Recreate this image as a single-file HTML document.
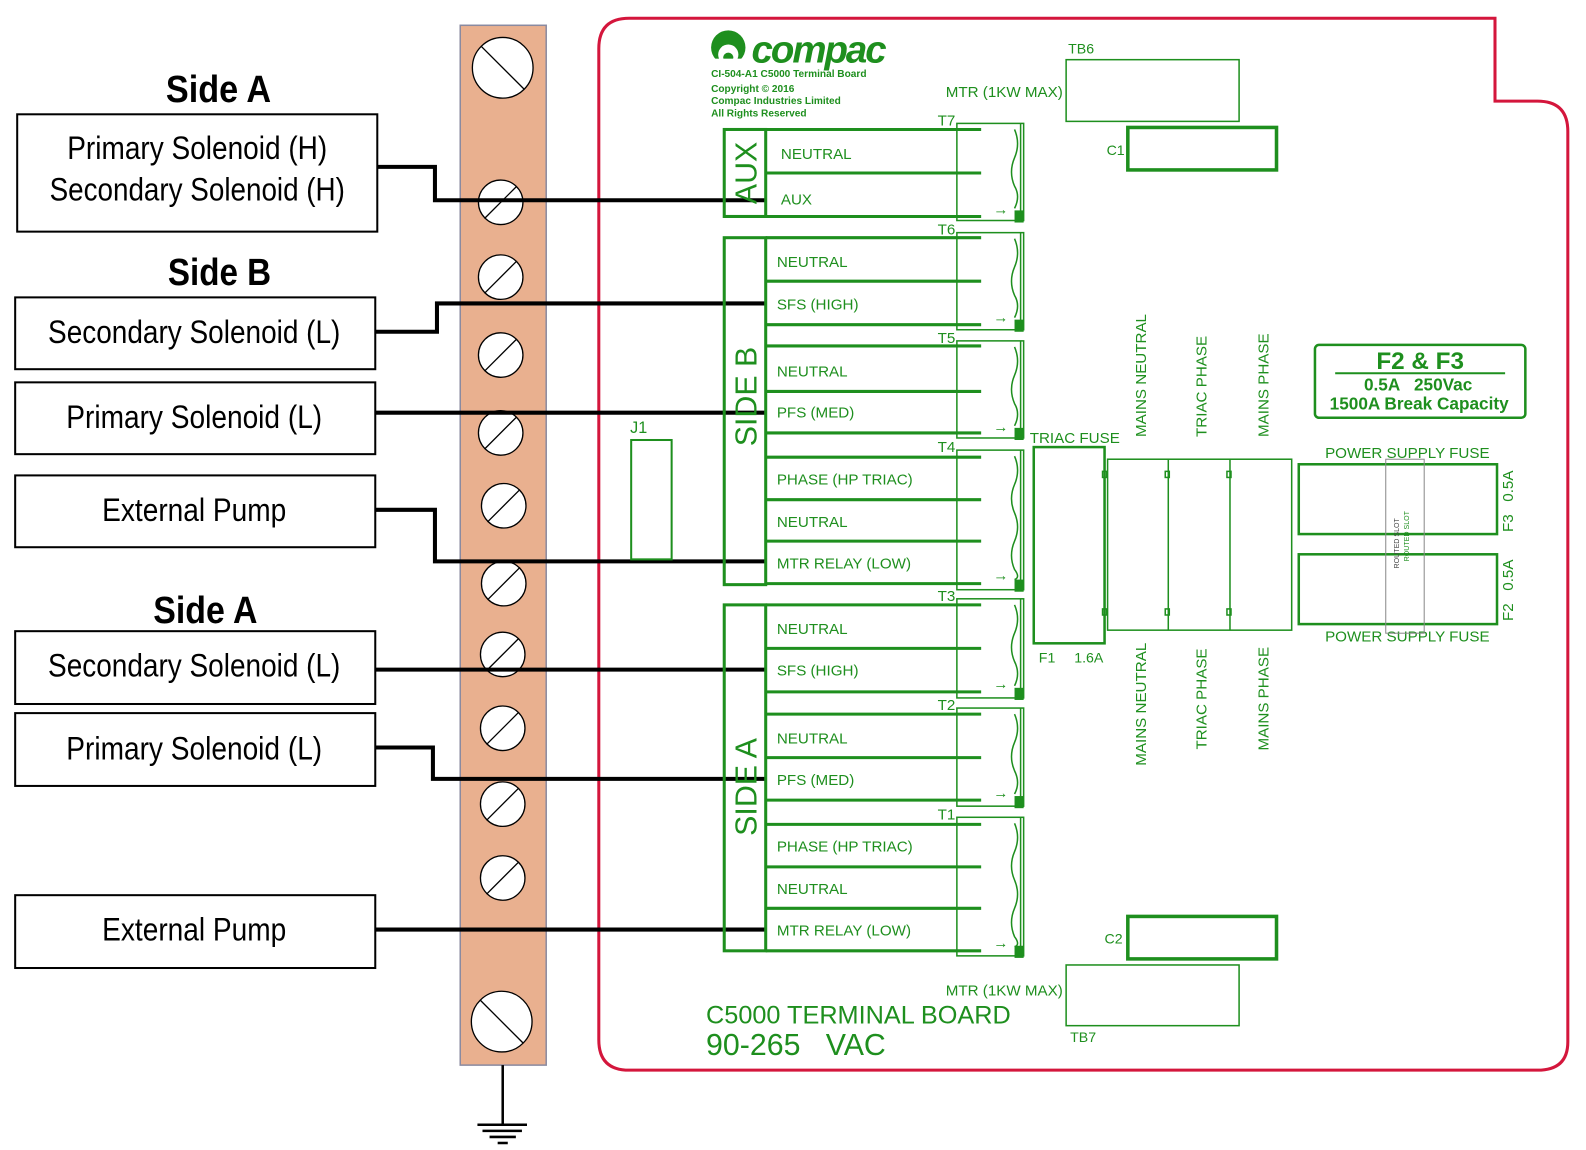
<!DOCTYPE html>
<html><head><meta charset="utf-8"><style>
html,body{margin:0;padding:0;background:#fff;}
svg{display:block;}
.g{fill:none;stroke:#1e8f1e;}
.gt{fill:#1e8f1e;font-family:"Liberation Sans",sans-serif;}
.bt{fill:#000;font-family:"Liberation Sans",sans-serif;text-anchor:middle;}
</style></head><body>
<svg width="1586" height="1150" viewBox="0 0 1586 1150" xmlns="http://www.w3.org/2000/svg">
<g transform="scale(1.0115)">
<!-- terminal strip -->
<rect x="455" y="25" width="85" height="1028" fill="#e9b08f" stroke="#8a8aa0" stroke-width="1.5"/>
<g fill="#fff" stroke="#000" stroke-width="1.3">
<circle cx="497" cy="67" r="30"/><line x1="476" y1="46" x2="518" y2="88"/>
<circle cx="495" cy="200" r="22"/><line x1="479" y1="216" x2="511" y2="184"/>
<circle cx="495" cy="274" r="22"/><line x1="479" y1="290" x2="511" y2="258"/>
<circle cx="495" cy="351" r="22"/><line x1="479" y1="367" x2="511" y2="335"/>
<circle cx="495" cy="428" r="22"/><line x1="479" y1="444" x2="511" y2="412"/>
<circle cx="498" cy="500" r="22"/><line x1="482" y1="516" x2="514" y2="484"/>
<circle cx="498" cy="577" r="22"/><line x1="482" y1="593" x2="514" y2="561"/>
<circle cx="497" cy="647" r="22"/><line x1="481" y1="663" x2="513" y2="631"/>
<circle cx="497" cy="720" r="22"/><line x1="481" y1="736" x2="513" y2="704"/>
<circle cx="497" cy="795" r="22"/><line x1="481" y1="811" x2="513" y2="779"/>
<circle cx="497" cy="868" r="22"/><line x1="481" y1="884" x2="513" y2="852"/>
<circle cx="496" cy="1010" r="30"/><line x1="475" y1="989" x2="517" y2="1031"/>
</g>
<g stroke="#000" stroke-width="2.5">
<line x1="497" y1="1053" x2="497" y2="1112"/>
<line x1="472" y1="1112" x2="521" y2="1112"/>
<line x1="477" y1="1118" x2="516" y2="1118"/>
<line x1="484" y1="1124" x2="510" y2="1124"/>
<line x1="492" y1="1130" x2="502" y2="1130"/>
</g>
<!-- left boxes -->
<g fill="none" stroke="#000" stroke-width="2">
<rect x="17" y="113" width="356" height="116"/>
<rect x="15" y="294" width="356" height="71"/>
<rect x="15" y="378" width="356" height="71"/>
<rect x="15" y="470" width="356" height="71"/>
<rect x="15" y="624" width="356" height="72"/>
<rect x="15" y="705" width="356" height="72"/>
<rect x="15" y="885" width="356" height="72"/>
</g>
<g class="bt" font-size="32">
<text x="195" y="157" textLength="257" lengthAdjust="spacingAndGlyphs">Primary Solenoid (H)</text>
<text x="195" y="198" textLength="292" lengthAdjust="spacingAndGlyphs">Secondary Solenoid (H)</text>
<text x="192" y="339" textLength="289" lengthAdjust="spacingAndGlyphs">Secondary Solenoid (L)</text>
<text x="192" y="423" textLength="253" lengthAdjust="spacingAndGlyphs">Primary Solenoid (L)</text>
<text x="192" y="515" textLength="182" lengthAdjust="spacingAndGlyphs">External Pump</text>
<text x="192" y="669" textLength="289" lengthAdjust="spacingAndGlyphs">Secondary Solenoid (L)</text>
<text x="192" y="751" textLength="253" lengthAdjust="spacingAndGlyphs">Primary Solenoid (L)</text>
<text x="192" y="930" textLength="182" lengthAdjust="spacingAndGlyphs">External Pump</text>
</g>
<g class="bt" font-size="38" font-weight="bold">
<text x="216" y="101" textLength="104" lengthAdjust="spacingAndGlyphs">Side A</text>
<text x="217" y="282" textLength="102" lengthAdjust="spacingAndGlyphs">Side B</text>
<text x="203" y="616" textLength="103" lengthAdjust="spacingAndGlyphs">Side A</text>
</g>
<!-- red border -->
<path d="M622 18 H1478 V100 H1520 Q1550 100 1550 130 V1030 Q1550 1058 1520 1058 H622 Q592 1058 592 1028 V48 Q592 18 622 18 Z" fill="none" stroke="#d4163c" stroke-width="3"/>
<!-- wires -->
<g fill="none" stroke="#000" stroke-width="4">
<path d="M373 165 H430 V198 H757"/>
<path d="M371 328 H432 V300 H757"/>
<path d="M371 408 H757"/>
<path d="M371 504 H430 V555 H757"/>
<path d="M371 662 H757"/>
<path d="M371 739 H428 V770 H757"/>
<path d="M371 919 H757"/>
</g>
<!-- green frames -->
<g class="g" stroke-width="3">
<rect x="716" y="128" width="41" height="86"/>
<rect x="716" y="235" width="41" height="343"/>
<rect x="716" y="598" width="41" height="342"/>
<line x1="757" y1="128" x2="970" y2="128"/><line x1="757" y1="171" x2="970" y2="171"/><line x1="716" y1="214" x2="970" y2="214"/>
<line x1="757" y1="235" x2="970" y2="235"/><line x1="757" y1="278" x2="970" y2="278"/><line x1="757" y1="321" x2="970" y2="321"/>
<line x1="757" y1="342" x2="970" y2="342"/><line x1="757" y1="387" x2="970" y2="387"/><line x1="757" y1="428" x2="970" y2="428"/>
<line x1="757" y1="452" x2="970" y2="452"/><line x1="757" y1="494" x2="970" y2="494"/><line x1="757" y1="535" x2="970" y2="535"/><line x1="757" y1="577" x2="970" y2="577"/>
<line x1="757" y1="598" x2="970" y2="598"/><line x1="757" y1="641" x2="970" y2="641"/><line x1="757" y1="684" x2="970" y2="684"/>
<line x1="757" y1="706" x2="970" y2="706"/><line x1="757" y1="749" x2="970" y2="749"/><line x1="757" y1="791" x2="970" y2="791"/>
<line x1="757" y1="815" x2="970" y2="815"/><line x1="757" y1="857" x2="970" y2="857"/><line x1="757" y1="898" x2="970" y2="898"/><line x1="757" y1="940" x2="970" y2="940"/>
</g>
<!-- connectors -->
<g class="g" stroke-width="1.5">
<rect x="946" y="122" width="66" height="96"/><line x1="1009" y1="122" x2="1009" y2="218"/>
<path d="M1003 128 q6 14 0 28 q-6 14 0 28 q6 10 0 22"/>
<rect x="946" y="230" width="66" height="96"/><line x1="1009" y1="230" x2="1009" y2="326"/>
<path d="M1003 236 q6 14 0 28 q-6 14 0 28 q6 10 0 22"/>
<rect x="946" y="337" width="66" height="96"/><line x1="1009" y1="337" x2="1009" y2="433"/>
<path d="M1003 343 q6 14 0 28 q-6 14 0 28 q6 10 0 22"/>
<rect x="946" y="445" width="66" height="138"/><line x1="1009" y1="445" x2="1009" y2="583"/>
<path d="M1003 451 q6 14 0 28 q-6 14 0 28 q6 14 0 28 q-6 14 0 28 q6 8 0 10"/>
<rect x="946" y="592" width="66" height="98"/><line x1="1009" y1="592" x2="1009" y2="690"/>
<path d="M1003 598 q6 14 0 28 q-6 14 0 28 q6 12 0 24"/>
<rect x="946" y="700" width="66" height="97"/><line x1="1009" y1="700" x2="1009" y2="797"/>
<path d="M1003 706 q6 14 0 28 q-6 14 0 28 q6 12 0 23"/>
<rect x="946" y="808" width="66" height="137"/><line x1="1009" y1="808" x2="1009" y2="945"/>
<path d="M1003 814 q6 14 0 28 q-6 14 0 28 q6 14 0 28 q-6 14 0 28 q6 8 0 10"/>
</g>
<g fill="#1e8f1e">
<rect x="1003" y="208" width="9" height="12"/><rect x="1003" y="316" width="9" height="12"/>
<rect x="1003" y="423" width="9" height="12"/><rect x="1003" y="573" width="9" height="12"/>
<rect x="1003" y="680" width="9" height="12"/><rect x="1003" y="787" width="9" height="12"/>
<rect x="1003" y="935" width="9" height="12"/>
</g>
<g class="gt" font-size="15" font-weight="bold">
<text x="982" y="212">→</text><text x="982" y="319">→</text><text x="982" y="427">→</text>
<text x="982" y="574">→</text><text x="982" y="681">→</text><text x="982" y="789">→</text><text x="982" y="937">→</text>
</g>
<g class="gt" font-size="15">
<text x="927" y="124">T7</text><text x="927" y="232">T6</text><text x="927" y="339">T5</text>
<text x="927" y="447">T4</text><text x="927" y="594">T3</text><text x="927" y="702">T2</text><text x="927" y="810">T1</text>
</g>
<g class="gt" font-size="15">
<text x="772" y="157">NEUTRAL</text><text x="772" y="202">AUX</text>
<text x="768" y="264">NEUTRAL</text><text x="768" y="306">SFS (HIGH)</text>
<text x="768" y="372">NEUTRAL</text><text x="768" y="413">PFS (MED)</text>
<text x="768" y="479">PHASE (HP TRIAC)</text><text x="768" y="521">NEUTRAL</text><text x="768" y="562">MTR RELAY (LOW)</text>
<text x="768" y="627">NEUTRAL</text><text x="768" y="668">SFS (HIGH)</text>
<text x="768" y="735">NEUTRAL</text><text x="768" y="776">PFS (MED)</text>
<text x="768" y="842">PHASE (HP TRIAC)</text><text x="768" y="884">NEUTRAL</text><text x="768" y="925">MTR RELAY (LOW)</text>
</g>
<g class="gt" font-size="30" text-anchor="middle">
<text transform="translate(748,171) rotate(-90)">AUX</text>
<text transform="translate(748,392) rotate(-90)">SIDE B</text>
<text transform="translate(748,778) rotate(-90)">SIDE A</text>
</g>
<!-- J1 -->
<rect class="g" stroke-width="2" x="624" y="435" width="40" height="118"/>
<text class="gt" font-size="16" x="623" y="428">J1</text>
<!-- logo -->
<circle cx="720" cy="47" r="17" fill="#1e8f1e"/>
<circle cx="720" cy="54" r="10" fill="#fff"/>
<circle cx="720" cy="57" r="5" fill="#1e8f1e"/>
<rect x="705" y="58" width="30" height="8" fill="#fff"/>
<text class="gt" x="743" y="62" font-size="38" font-weight="bold" font-style="italic" letter-spacing="-2">compac</text>
<g class="gt" font-size="10" font-weight="bold">
<text x="703" y="76">CI-504-A1 C5000 Terminal Board</text>
<text x="703" y="91">Copyright © 2016</text>
<text x="703" y="103">Compac Industries Limited</text>
<text x="703" y="115">All Rights Reserved</text>
</g>
<!-- TB6 / C1 -->
<rect class="g" stroke-width="1.5" x="1054" y="59" width="171" height="61"/>
<text class="gt" font-size="14" x="1056" y="53">TB6</text>
<text class="gt" font-size="15" x="935" y="96">MTR (1KW MAX)</text>
<rect class="g" stroke-width="3.5" x="1115" y="126" width="147" height="42"/>
<text class="gt" font-size="14" x="1094" y="153">C1</text>
<!-- TB7 / C2 -->
<rect class="g" stroke-width="3.5" x="1115" y="906" width="147" height="42"/>
<text class="gt" font-size="14" x="1092" y="933">C2</text>
<rect class="g" stroke-width="1.5" x="1054" y="954" width="171" height="60"/>
<text class="gt" font-size="14" x="1058" y="1030">TB7</text>
<text class="gt" font-size="15" x="935" y="984">MTR (1KW MAX)</text>
<text class="gt" font-size="25" x="698" y="1012">C5000 TERMINAL BOARD</text>
<text class="gt" font-size="30" x="698" y="1043" xml:space="preserve">90-265   VAC</text>
<!-- triac fuse -->
<text class="gt" font-size="15" x="1018" y="438">TRIAC FUSE</text>
<rect class="g" stroke-width="2.5" x="1022" y="442" width="70" height="194"/>
<text class="gt" font-size="14" x="1027" y="655">F1</text>
<text class="gt" font-size="14" x="1062" y="655">1.6A</text>
<g class="g" stroke-width="1.5">
<rect x="1095" y="454" width="182" height="169"/>
<line x1="1155" y1="454" x2="1155" y2="623"/><line x1="1216" y1="454" x2="1216" y2="623"/>
<rect x="1090" y="466" width="4" height="6"/><rect x="1090" y="602" width="4" height="6"/>
<rect x="1152" y="466" width="4" height="6"/><rect x="1152" y="602" width="4" height="6"/>
<rect x="1213" y="466" width="4" height="6"/><rect x="1213" y="602" width="4" height="6"/>
</g>
<g class="gt" font-size="15">
<text transform="translate(1133,432) rotate(-90)">MAINS NEUTRAL</text>
<text transform="translate(1193,432) rotate(-90)">TRIAC PHASE</text>
<text transform="translate(1254,432) rotate(-90)">MAINS PHASE</text>
<text transform="translate(1133,757) rotate(-90)">MAINS NEUTRAL</text>
<text transform="translate(1193,741) rotate(-90)">TRIAC PHASE</text>
<text transform="translate(1254,742) rotate(-90)">MAINS PHASE</text>
</g>
<!-- F2 F3 -->
<rect class="g" stroke-width="2.5" x="1300" y="341" width="208" height="72" rx="4"/>
<line x1="1320" y1="369" x2="1488" y2="369" stroke="#1e8f1e" stroke-width="2"/>
<g class="gt" font-weight="bold" text-anchor="middle">
<text x="1404" y="365" font-size="24">F2 &amp; F3</text>
<text x="1402" y="386" font-size="17" xml:space="preserve">0.5A   250Vac</text>
<text x="1403" y="405" font-size="17">1500A Break Capacity</text>
</g>
<text class="gt" font-size="15" x="1310" y="453">POWER SUPPLY FUSE</text>
<text class="gt" font-size="15" x="1310" y="634">POWER SUPPLY FUSE</text>
<rect class="g" stroke-width="2.5" x="1284" y="459" width="196" height="69"/>
<rect class="g" stroke-width="2.5" x="1284" y="548" width="196" height="69"/>
<rect x="1370" y="454" width="38" height="172" fill="none" stroke="#888" stroke-width="1"/>
<text transform="translate(1383,562) rotate(-90)" font-size="7" fill="#444" font-family="Liberation Sans,sans-serif">ROUTED SLOT</text>
<text transform="translate(1393,555) rotate(-90)" font-size="7" fill="#1e8f1e" font-family="Liberation Sans,sans-serif">ROUTED SLOT</text>
<g class="gt" font-size="15">
<text transform="translate(1496,526) rotate(-90)" xml:space="preserve">F3   0.5A</text>
<text transform="translate(1496,614) rotate(-90)" xml:space="preserve">F2   0.5A</text>
</g>
</g>
</svg>
</body></html>
